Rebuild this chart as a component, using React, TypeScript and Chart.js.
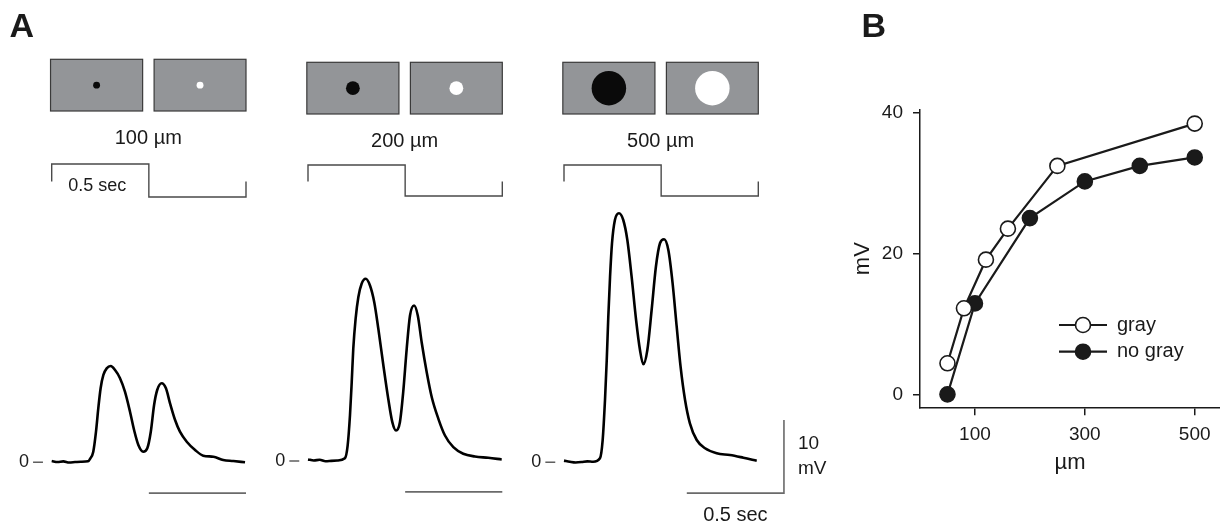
import React, { useEffect, useRef } from "react";
import { Chart, registerables } from "chart.js";

Chart.register(...registerables);

// ---------------- DATA ----------------
// Panel A: spot diameters and labels
const spotSizes = [100, 200, 500]; // µm
const spotLabels = ["100 µm", "200 µm", "500 µm"];

// Voltage traces (time in s, membrane potential in mV)
const trace100T = [0, 0.03, 0.06, 0.09, 0.12, 0.15, 0.187, 0.197, 0.214, 0.228, 0.24, 0.252, 0.266, 0.283, 0.304, 0.326, 0.351, 0.377, 0.403, 0.424, 0.446, 0.471, 0.492, 0.51, 0.527, 0.543, 0.566, 0.588, 0.609, 0.635, 0.66, 0.695, 0.738, 0.78, 0.832, 0.883, 0.935, 0.995];
const trace100V = [0.1, -0.05, 0.05, -0.1, -0.05, 0, 0.05, 0.37, 1.37, 4.11, 7.36, 10.1, 11.88, 12.79, 13.11, 12.56, 11.47, 9.59, 6.85, 4.34, 2.29, 1.37, 1.84, 4.11, 7.77, 9.82, 10.74, 10.05, 8.0, 5.71, 4.11, 2.74, 1.6, 0.82, 0.68, 0.23, 0.1, -0.08];

const trace200T = [0, 0.03, 0.06, 0.09, 0.12, 0.15, 0.19, 0.204, 0.216, 0.225, 0.233, 0.245, 0.259, 0.276, 0.297, 0.319, 0.341, 0.362, 0.388, 0.413, 0.434, 0.453, 0.473, 0.49, 0.508, 0.525, 0.546, 0.565, 0.585, 0.611, 0.637, 0.671, 0.705, 0.748, 0.799, 0.859, 0.928, 0.997];
const trace200V = [0.15, 0.0, 0.1, -0.1, -0.05, 0.0, 0.32, 2.05, 6.16, 10.73, 15.3, 19.41, 22.37, 24.21, 24.89, 23.97, 21.68, 18.04, 13.01, 8.45, 5.25, 4.11, 5.25, 9.36, 15.3, 19.86, 21.23, 19.86, 16.2, 12.1, 8.67, 5.71, 3.42, 1.82, 0.92, 0.55, 0.37, 0.14];

const trace500T = [0, 0.03, 0.06, 0.09, 0.12, 0.15, 0.185, 0.199, 0.211, 0.22, 0.228, 0.237, 0.247, 0.262, 0.283, 0.305, 0.326, 0.348, 0.371, 0.391, 0.408, 0.429, 0.451, 0.473, 0.494, 0.515, 0.537, 0.559, 0.58, 0.6, 0.623, 0.648, 0.683, 0.726, 0.786, 0.854, 0.923, 0.992];
const trace500V = [0.15, 0.0, -0.1, -0.05, 0.05, 0.0, 0.47, 2.97, 8.45, 13.93, 19.86, 25.34, 29.92, 33.11, 34.03, 33.11, 30.37, 25.34, 19.41, 15.3, 13.34, 15.3, 20.78, 26.71, 29.92, 30.47, 29.0, 24.44, 18.49, 13.01, 8.45, 5.26, 2.97, 1.84, 1.15, 0.92, 0.55, 0.14];

// Stimulus timing (dark spot 0–0.5 s, bright spot 0.5–1 s)
const stimT = [0, 0, 0.5, 0.5, 1, 1];
const stimV = [0.47, 1, 1, 0, 0, 0.47];
// Bar marking the second half-period
const offBarT = [0.5, 1.0];
const barLevelMV = -4.3;
// Scale bar
const scaleBarStartT = 0.632;
const scaleBarSec = 0.5;
const scaleBarMV = 10;

// Panel B
const seriesNames = ["gray", "no gray"];
const graySizes = [50, 80, 120, 160, 250, 500];
const grayMV = [4.4, 12.2, 19.1, 23.5, 32.4, 38.4];
const noGraySizes = [50, 100, 200, 300, 400, 500];
const noGrayMV = [0, 12.9, 25.0, 30.2, 32.4, 33.6];
const bXTicks = [100, 300, 500];
const bYTicks = [0, 20, 40];

// ---------------- LAYOUT / STYLE ----------------
const FONT = '"Liberation Sans", Arial, Helvetica, sans-serif';
const INK = "#1a1a1a";
const H = 524;
const PX_PER_S = 194.3;
const PX_PER_MV = 7.3;
const SPOT_PX_PER_UM = 0.0345;
const BOX_SPANS: [number, number][] = [
  [-0.006, 0.468],
  [0.527, 1.0],
];
const SPOT_COLORS = ["#0a0a0a", "#ffffff"];

const traceT = [trace100T, trace200T, trace500T];
const traceV = [trace100V, trace200V, trace500V];

type Col = {
  left: number;
  width: number;
  t0px: number;
  baseline: number;
  stimTop: number;
  stimLow: number;
  boxTop: number;
  labelY: number;
};
const cols: Col[] = [
  { left: 0, width: 256, t0px: 51.7, baseline: 461.7, stimTop: 164, stimLow: 197, boxTop: 59.3, labelY: 138 },
  { left: 256, width: 256, t0px: 308, baseline: 460.5, stimTop: 165, stimLow: 196, boxTop: 62.3, labelY: 141 },
  { left: 512, width: 330, t0px: 564, baseline: 461.7, stimTop: 165, stimLow: 196, boxTop: 62.3, labelY: 141 },
];
const B_LEFT = 842;
const B_WIDTH = 1220 - 842;

Chart.defaults.font.family = FONT;
Chart.defaults.color = INK;

const toXY = (xs: number[], ys: number[]) => xs.map((x, i) => ({ x, y: ys[i] }));

function columnDecor(i: number) {
  return {
    id: "colDecor" + i,
    afterDraw(chart: any) {
      const ctx: CanvasRenderingContext2D = chart.ctx;
      const c = cols[i];
      const xs = chart.scales.x;
      const ym = chart.scales.y;
      const px = (t: number) => xs.getPixelForValue(t);
      ctx.save();
      // stimulus pictures
      const boxH = 51.7;
      BOX_SPANS.forEach(([a, b], k) => {
        const x1 = px(a);
        const x2 = px(b);
        ctx.fillStyle = "#939598";
        ctx.fillRect(x1, c.boxTop, x2 - x1, boxH);
        ctx.strokeStyle = "#3a3a3a";
        ctx.lineWidth = 1.2;
        ctx.strokeRect(x1, c.boxTop, x2 - x1, boxH);
        ctx.beginPath();
        ctx.arc((x1 + x2) / 2, c.boxTop + boxH / 2, spotSizes[i] * SPOT_PX_PER_UM, 0, Math.PI * 2);
        ctx.fillStyle = SPOT_COLORS[k];
        ctx.fill();
      });
      ctx.fillStyle = INK;
      ctx.textBaseline = "middle";
      ctx.textAlign = "center";
      ctx.font = `20px ${FONT}`;
      ctx.fillText(spotLabels[i], px(0.497), c.labelY);

      // zero label
      const y0 = ym.getPixelForValue(0);
      ctx.font = `18px ${FONT}`;
      ctx.textAlign = "right";
      ctx.fillText("0", px(-0.117), y0 + 0.5);
      ctx.strokeStyle = "#444";
      ctx.lineWidth = 1.3;
      ctx.beginPath();
      ctx.moveTo(px(-0.096), y0 + 0.5);
      ctx.lineTo(px(-0.045), y0 + 0.5);
      ctx.stroke();

      if (i === 0) {
        ctx.textAlign = "left";
        ctx.font = `18px ${FONT}`;
        ctx.fillText("0.5 sec", px(0.085), 186);
        ctx.font = `bold 34px ${FONT}`;
        ctx.textBaseline = "alphabetic";
        ctx.fillText("A", 9.5, 37);
      }
      if (i === 2) {
        const xEnd = px(scaleBarStartT + scaleBarSec);
        const yMid = (ym.getPixelForValue(barLevelMV) + ym.getPixelForValue(barLevelMV + scaleBarMV)) / 2;
        ctx.textAlign = "left";
        ctx.font = `19px ${FONT}`;
        ctx.fillText("10", xEnd + 14, yMid - 13);
        ctx.fillText("mV", xEnd + 14, yMid + 12);
        ctx.textAlign = "center";
        ctx.font = `20px ${FONT}`;
        ctx.fillText("0.5 sec", px(scaleBarStartT + scaleBarSec / 2), ym.getPixelForValue(barLevelMV) + 22);
      }
      ctx.restore();
    },
  };
}

function columnConfig(i: number): any {
  const c = cols[i];
  const stimUnit = c.stimLow - c.stimTop;
  const datasets: any[] = [
    {
      label: "trace",
      data: toXY(traceT[i], traceV[i]),
      yAxisID: "y",
      borderColor: "#000",
      borderWidth: 2.6,
      pointRadius: 0,
      cubicInterpolationMode: "monotone",
      fill: false,
    },
    {
      label: "stimulus",
      data: toXY(stimT, stimV),
      yAxisID: "ys",
      borderColor: "#4a4a4a",
      borderWidth: 1.4,
      pointRadius: 0,
      tension: 0,
      fill: false,
    },
  ];
  if (i < 2) {
    datasets.push({
      label: "bar",
      data: toXY(offBarT, offBarT.map(() => barLevelMV)),
      yAxisID: "y",
      borderColor: "#6a6a6a",
      borderWidth: 1.6,
      pointRadius: 0,
      fill: false,
    });
  } else {
    datasets.push({
      label: "scale",
      data: toXY(
        [scaleBarStartT, scaleBarStartT + scaleBarSec, scaleBarStartT + scaleBarSec],
        [barLevelMV, barLevelMV, barLevelMV + scaleBarMV]
      ),
      yAxisID: "y",
      borderColor: "#6a6a6a",
      borderWidth: 1.6,
      pointRadius: 0,
      tension: 0,
      fill: false,
    });
  }
  return {
    type: "line",
    data: { datasets },
    options: {
      responsive: false,
      animation: false,
      events: [],
      layout: { padding: 0, autoPadding: false },
      plugins: { legend: { display: false }, tooltip: { enabled: false }, title: { display: false } },
      scales: {
        x: {
          type: "linear",
          display: false,
          min: (c.left - c.t0px) / PX_PER_S,
          max: (c.left + c.width - c.t0px) / PX_PER_S,
        },
        y: {
          type: "linear",
          display: false,
          min: (c.baseline - H) / PX_PER_MV,
          max: c.baseline / PX_PER_MV,
        },
        ys: {
          type: "linear",
          display: false,
          min: (c.stimLow - H) / stimUnit,
          max: c.stimLow / stimUnit,
        },
      },
    },
    plugins: [columnDecor(i)],
  };
}

const bDecor = {
  id: "bDecor",
  afterDraw(chart: any) {
    const ctx: CanvasRenderingContext2D = chart.ctx;
    ctx.save();
    ctx.fillStyle = INK;
    ctx.font = `bold 34px ${FONT}`;
    ctx.textBaseline = "alphabetic";
    ctx.textAlign = "left";
    ctx.fillText("B", 861.5 - B_LEFT, 37);
    // legend
    const rows = [325, 351.7];
    seriesNames.forEach((name, k) => {
      const ds = chart.data.datasets[k];
      const y = rows[k];
      const xa = 1059 - B_LEFT;
      const xb = 1107 - B_LEFT;
      ctx.strokeStyle = ds.borderColor;
      ctx.lineWidth = ds.borderWidth;
      ctx.beginPath();
      ctx.moveTo(xa, y);
      ctx.lineTo(xb, y);
      ctx.stroke();
      ctx.beginPath();
      ctx.arc((xa + xb) / 2, y, ds.pointRadius, 0, Math.PI * 2);
      ctx.fillStyle = ds.pointBackgroundColor;
      ctx.fill();
      ctx.lineWidth = ds.pointBorderWidth;
      ctx.strokeStyle = ds.pointBorderColor;
      ctx.stroke();
      ctx.fillStyle = INK;
      ctx.font = `20px ${FONT}`;
      ctx.textBaseline = "middle";
      ctx.fillText(name, 1117 - B_LEFT, y);
    });
    ctx.restore();
  },
};

function bConfig(): any {
  const common = {
    borderColor: INK,
    borderWidth: 2.2,
    pointRadius: 7.5,
    pointBorderColor: INK,
    pointBorderWidth: 1.6,
    tension: 0,
    fill: false,
    clip: false,
  };
  return {
    type: "line",
    data: {
      datasets: [
        { ...common, label: seriesNames[0], data: toXY(graySizes, grayMV), pointBackgroundColor: "#ffffff" },
        { ...common, label: seriesNames[1], data: toXY(noGraySizes, noGrayMV), pointBackgroundColor: INK },
      ],
    },
    options: {
      responsive: false,
      animation: false,
      events: [],
      layout: { padding: { top: 110, left: 0, right: 0, bottom: 0 }, autoPadding: false },
      plugins: { legend: { display: false }, tooltip: { enabled: false }, title: { display: false } },
      scales: {
        x: {
          type: "linear",
          min: 0,
          max: 546,
          afterBuildTicks: (s: any) => {
            s.ticks = bXTicks.map((v) => ({ value: v }));
          },
          afterFit: (s: any) => {
            s.height = H - 407.3;
            s.paddingLeft = 0;
            s.paddingRight = 0;
          },
          grid: { drawOnChartArea: false, drawTicks: true, tickLength: 8, color: INK, lineWidth: 1.5 },
          border: { display: true, color: INK, width: 1.5 },
          ticks: { color: INK, font: { size: 19 }, padding: 8.3, maxRotation: 0, autoSkip: false },
          title: { display: true, text: "µm", color: INK, font: { size: 22 }, padding: { top: 0, bottom: 47.8 } },
        },
        y: {
          type: "linear",
          min: -1.84,
          max: 40.33,
          afterBuildTicks: (s: any) => {
            s.ticks = bYTicks.map((v) => ({ value: v }));
          },
          afterFit: (s: any) => {
            s.width = 920 - B_LEFT;
            s.paddingTop = 0;
            s.paddingBottom = 0;
          },
          grid: { drawOnChartArea: false, drawTicks: true, tickLength: 7, color: INK, lineWidth: 1.5 },
          border: { display: true, color: INK, width: 1.5 },
          ticks: { color: INK, font: { size: 19 }, padding: 10 },
          title: { display: true, text: "mV", color: INK, font: { size: 22 }, padding: { top: 7.8, bottom: 0 } },
        },
      },
    },
    plugins: [bDecor],
  };
}

export default function App() {
  const canvases = useRef<(HTMLCanvasElement | null)[]>([]);

  useEffect(() => {
    const charts: Chart[] = [];
    cols.forEach((_, i) => {
      const cv = canvases.current[i];
      if (cv) charts.push(new Chart(cv, columnConfig(i)));
    });
    const b = canvases.current[3];
    if (b) charts.push(new Chart(b, bConfig()));
    return () => charts.forEach((ch) => ch.destroy());
  }, []);

  return (
    <div style={{ position: "absolute", left: 0, top: 0, width: 1220, height: H, background: "#fff", overflow: "hidden" }}>
      {cols.map((c, i) => (
        <canvas
          key={i}
          ref={(el) => {
            canvases.current[i] = el;
          }}
          width={c.width}
          height={H}
          style={{ position: "absolute", left: c.left, top: 0, width: c.width, height: H }}
        />
      ))}
      <canvas
        ref={(el) => {
          canvases.current[3] = el;
        }}
        width={B_WIDTH}
        height={H}
        style={{ position: "absolute", left: B_LEFT, top: 0, width: B_WIDTH, height: H }}
      />
    </div>
  );
}
